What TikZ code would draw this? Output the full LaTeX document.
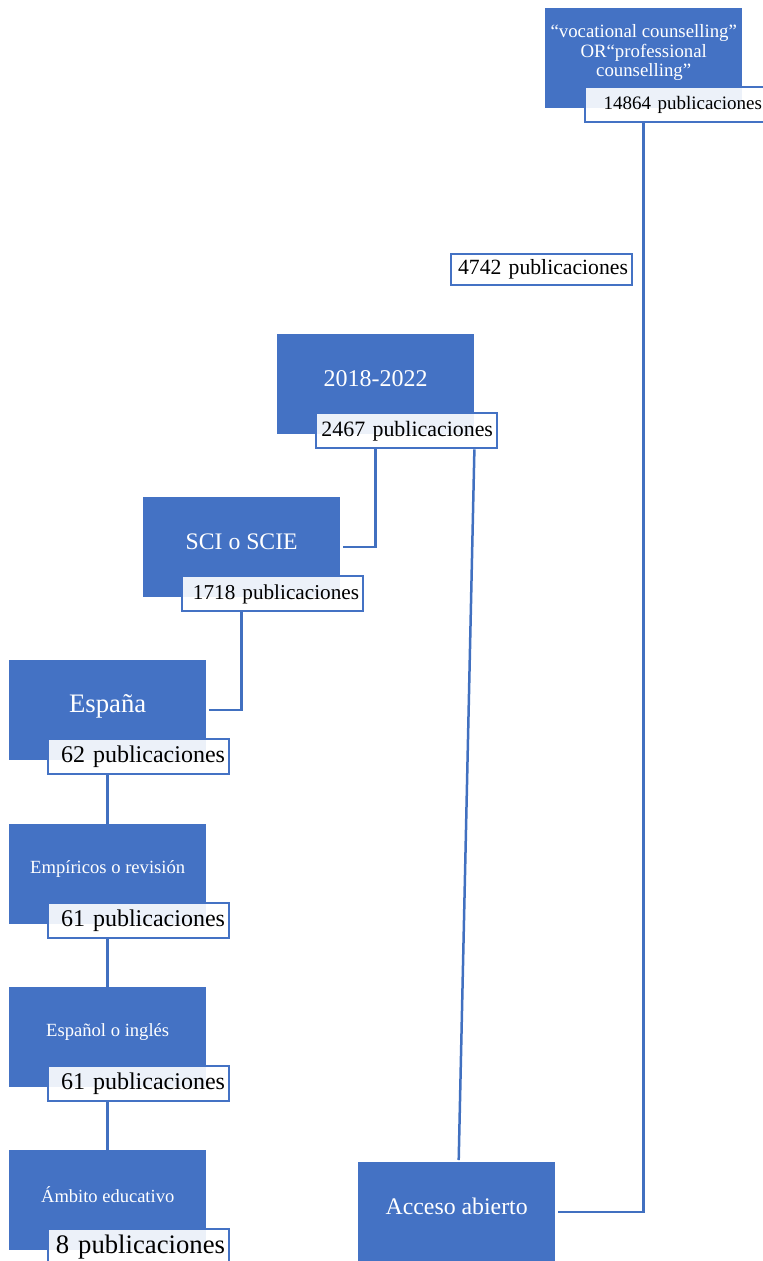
\documentclass[tikz,border=0pt]{standalone}
\usepackage{fontspec}
\setmainfont{Liberation Serif}
\definecolor{boxblue}{HTML}{4472C4}
\definecolor{lineblue}{HTML}{4170C0}
\tikzset{
  stage/.style={fill=boxblue, draw=none, minimum width=197pt, minimum height=100pt,
    inner sep=0pt, anchor=north west},
  stagetext/.style={text=white, align=center},
  count/.style={draw=boxblue, line width=2pt, fill=white, fill opacity=0.9, text opacity=1,
    text width=173pt, align=right, inner xsep=4pt, inner ysep=0pt, minimum height=35pt,
    anchor=north west},
  link/.style={draw=lineblue, line width=2.5pt},
}
\begin{document}
\begin{tikzpicture}[x=1pt,y=-1pt]
\useasboundingbox (0,0) rectangle (763,1261);
% search terms
\node[stage] (terms) at (545,8) {};
\node[stagetext, font=\fontsize{18.8}{19.5}\selectfont] at ([yshift=-45pt]terms.north)
  {“vocational counselling”\\OR“professional\\counselling”};
\node[count, font=\fontsize{19}{20}\selectfont] (termsnum) at ([xshift=39pt,yshift=22pt]terms.south west) {14864 publicaciones};
% open access
\node[stage] (free) at (358,1162) {};
\node[stagetext, font=\fontsize{23.8}{25}\selectfont] at ([yshift=-44pt]free.north) {Acceso abierto};
\node[count, minimum height=31pt, font=\fontsize{21.7}{22}\selectfont] (freenum) at (450,253) {4742 publicaciones};
% years
\node[stage] (years) at (277,334) {};
\node[stagetext, font=\fontsize{24}{25}\selectfont] at ([yshift=-45pt]years.north) {2018-2022};
\node[count, font=\fontsize{21.9}{22}\selectfont] (yearsnum) at ([xshift=38pt,yshift=22pt]years.south west) {2467 publicaciones};
% index
\node[stage] (index) at (143,497) {};
\node[stagetext, font=\fontsize{23.7}{25}\selectfont] at ([yshift=-45pt]index.north) {SCI o SCIE};
\node[count, font=\fontsize{21.2}{22}\selectfont] (indexnum) at ([xshift=38pt,yshift=22pt]index.south west) {1718 publicaciones};
% country
\node[stage] (country) at (9,660) {};
\node[stagetext, font=\fontsize{26.7}{28}\selectfont] at ([yshift=-46pt]country.north) {España};
\node[count, font=\fontsize{24}{25}\selectfont] (countrynum) at ([xshift=38pt,yshift=22pt]country.south west) {62 publicaciones};
% kind of study
\node[stage] (kind) at (9,824) {};
\node[stagetext, font=\fontsize{18.6}{20}\selectfont] at ([yshift=-45pt]kind.north) {Empíricos o revisión};
\node[count, font=\fontsize{24}{25}\selectfont] (kindnum) at ([xshift=38pt,yshift=22pt]kind.south west) {61 publicaciones};
% language
\node[stage] (lang) at (9,987) {};
\node[stagetext, font=\fontsize{18.6}{20}\selectfont] at ([yshift=-45pt]lang.north) {Español o inglés};
\node[count, font=\fontsize{24}{25}\selectfont] (langnum) at ([xshift=38pt,yshift=22pt]lang.south west) {61 publicaciones};
% field
\node[stage] (field) at (9,1150) {};
\node[stagetext, font=\fontsize{18.5}{20}\selectfont] at ([yshift=-45pt]field.north) {Ámbito educativo};
\node[count, font=\fontsize{26.7}{28}\selectfont] (fieldnum) at ([xshift=38pt,yshift=22pt]field.south west) {8 publicaciones};
% links
\draw[link] (terms.south |- termsnum.south) |- ([xshift=3pt]free.east);
\draw[link] (years.east |- yearsnum.south) -- ([xshift=2pt,yshift=2pt]free.north);
\draw[link] (years.south |- yearsnum.south) |- ([xshift=3pt]index.east);
\draw[link] (index.south |- indexnum.south) |- ([xshift=3pt]country.east);
\draw[link] (country.south |- countrynum.south) -- (kind.north);
\draw[link] (kind.south |- kindnum.south) -- (lang.north);
\draw[link] (lang.south |- langnum.south) -- (field.north);
\end{tikzpicture}
\end{document}
